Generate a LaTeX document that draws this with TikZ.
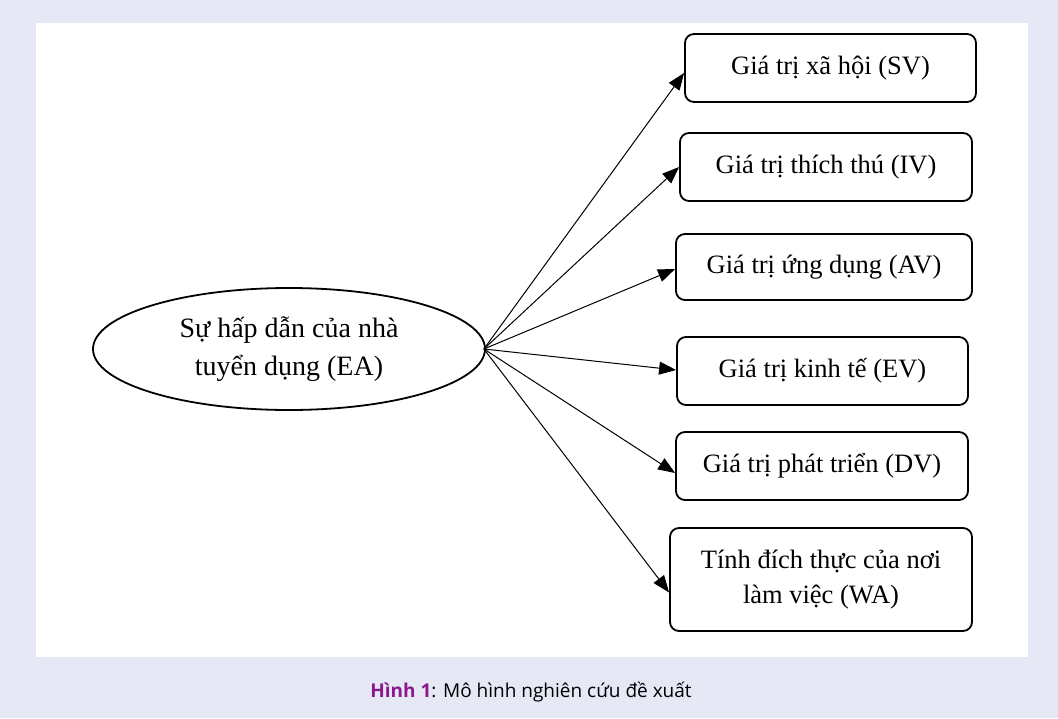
\documentclass[tikz,border=0pt]{standalone}
\usepackage{fontspec}
\setmainfont{Liberation Serif}
\newfontfamily\capfont{Open Sans}
\usetikzlibrary{arrows.meta,shapes.geometric}
\definecolor{bgcol}{RGB}{230,233,245}
\definecolor{capcol}{RGB}{140,25,140}
\tikzset{
  vbox/.style={draw=black,line width=1.8pt,rounded corners=9pt,fill=white,
    font=\fontsize{26.5}{35}\selectfont,align=center,inner sep=0pt},
  conn/.style={draw=black,line width=1pt,-{Triangle[length=17pt,width=13pt]}},
}
\begin{document}
\begin{tikzpicture}[x=1pt,y=-1pt]
\fill[bgcol] (0,0) rectangle (1058,718);
\useasboundingbox (0,0) rectangle (1058,718);
\fill[white] (36,23) rectangle (1028,657);
\node[draw=black,line width=1.8pt,ellipse,minimum width=392pt,minimum height=122pt,inner sep=0pt,
  font=\fontsize{28}{38}\selectfont,align=center] (ea) at (289,349) {Sự hấp dẫn của nhà\\tuyển dụng (EA)};
\node[vbox,minimum width=291pt,minimum height=68pt] (sv) at (830.5,68) {Giá trị xã hội (SV)};
\node[vbox,minimum width=292pt,minimum height=68pt] (iv) at (826,167) {Giá trị thích thú (IV)};
\node[vbox,minimum width=296pt,minimum height=66pt] (av) at (824,267) {Giá trị ứng dụng (AV)};
\node[vbox,minimum width=291pt,minimum height=68pt] (ev) at (822.5,371) {Giá trị kinh tế (EV)};
\node[vbox,minimum width=292pt,minimum height=68pt] (dv) at (822,466) {Giá trị phát triển (DV)};
\node[vbox,minimum width=302pt,minimum height=103pt] (wa) at (821,579.5) {Tính đích thực của nơi\\làm việc (WA)};
\coordinate (src) at ([xshift=-2pt]ea.east);
\draw[conn] (src) -- ([yshift=-5pt]sv.west);
\draw[conn] (src) -- (iv.west);
\draw[conn] (src) -- ([yshift=-2pt]av.west);
\draw[conn] (src) -- ([yshift=1pt]ev.west);
\draw[conn] (src) -- ([yshift=-7pt]dv.west);
\draw[conn] (src) -- ([yshift=-13pt]wa.west);
\node[font=\capfont\fontsize{19}{22}\selectfont] (cap) at (531,692) {\textcolor{capcol}{\bfseries Hình 1}: Mô hình nghiên cứu đề xuất};
\end{tikzpicture}
\end{document}
